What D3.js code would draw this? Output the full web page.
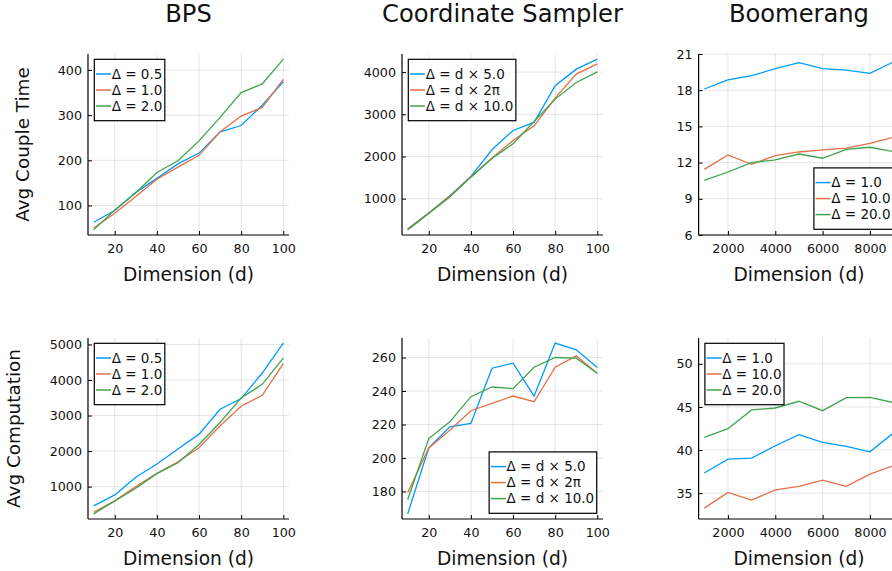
<!DOCTYPE html>
<html>
<head>
<meta charset="utf-8">
<script src="https://cdn.jsdelivr.net/npm/d3@7"></script>
<style>
  body { margin: 0; background: #fff; }
  svg { display: block; font-family: "DejaVu Sans", sans-serif; }
</style>
</head>
<body>
<div id="viz"></div>
<script>
// x values
const dims = [10, 20, 30, 40, 50, 60, 70, 80, 90, 100];
const boomDims = [1000, 2000, 3000, 4000, 5000, 6000, 7000, 8000, 9000];

// BPS
const bpsLabels = ["Δ = 0.5", "Δ = 1.0", "Δ = 2.0"];
const bpsCouple = [
    [63, 89, 129, 160, 192, 216, 263, 277, 322, 374],
    [50, 83, 120, 158, 185, 211, 263, 298, 317, 379],
    [46, 90, 128, 173, 199, 243, 295, 350, 369, 424]
];
const bpsComp = [
    [458, 766, 1262, 1635, 2056, 2476, 3177, 3477, 4196, 5037],
    [280, 598, 1000, 1374, 1700, 2093, 2710, 3262, 3570, 4458],
    [233, 600, 954, 1365, 1672, 2187, 2804, 3495, 3878, 4617]
];

// Coordinate Sampler
const csLabels = ["Δ = d × 5.0", "Δ = d × 2π", "Δ = d × 10.0"];
const csCouple = [
    [282, 661, 1071, 1528, 2160, 2617, 2807, 3676, 4071, 4308],
    [280, 660, 1060, 1520, 1964, 2380, 2728, 3384, 3953, 4197],
    [260, 650, 1040, 1510, 1950, 2302, 2830, 3360, 3754, 4007]
];
const csComp = [
    [166.6, 206, 218.6, 220.6, 253.6, 256.6, 237, 268.6, 264.6, 254],
    [179.2, 206, 216.6, 228.2, 232.6, 237, 233.6, 254.2, 261, 250.6],
    [175.2, 211.6, 221.6, 236.6, 242.4, 241.4, 254.2, 260, 259.6, 250.6]
];

// Boomerang
const boomLabels = ["Δ = 1.0", "Δ = 10.0", "Δ = 20.0"];
const boomCouple = [
    [18.1, 18.85, 19.2, 19.78, 20.28, 19.78, 19.67, 19.4, 20.35],
    [11.44, 12.63, 11.86, 12.58, 12.88, 13.05, 13.2, 13.6, 14.1],
    [10.53, 11.22, 12.0, 12.22, 12.71, 12.36, 13.1, 13.27, 12.9]
];
const boomComp = [
    [37.33, 38.95, 39.07, 40.5, 41.78, 40.9, 40.43, 39.8, 42.0],
    [33.26, 35.08, 34.19, 35.39, 35.78, 36.51, 35.78, 37.21, 38.2],
    [41.47, 42.48, 44.65, 44.88, 45.66, 44.57, 46.09, 46.12, 45.5]
];

const titles = ["BPS", "Coordinate Sampler", "Boomerang"];
const rowLabels = ["Avg Couple Time", "Avg Computation"];

const colors = ["#009AFA", "#E36F47", "#3EA44E"];
const W = 892, H = 571;

const cols = [[88, 289], [402, 603], [698.6, 899.3]];
const rows = [[54, 235], [338, 519]];

const panels = [
    {row: 0, col: 0, x: dims, ys: bpsCouple, labels: bpsLabels, xTicks: [20, 40, 60, 80, 100], yTicks: [100, 200, 300, 400], legend: "topleft"},
    {row: 0, col: 1, x: dims, ys: csCouple, labels: csLabels, xTicks: [20, 40, 60, 80, 100], yTicks: [1000, 2000, 3000, 4000], legend: "topleft"},
    {row: 0, col: 2, x: boomDims, ys: boomCouple, labels: boomLabels, xTicks: [2000, 4000, 6000, 8000], yTicks: [6, 9, 12, 15, 18, 21], yDomain: [6, 21], legend: "bottomright"},
    {row: 1, col: 0, x: dims, ys: bpsComp, labels: bpsLabels, xTicks: [20, 40, 60, 80, 100], yTicks: [1000, 2000, 3000, 4000, 5000], legend: "topleft"},
    {row: 1, col: 1, x: dims, ys: csComp, labels: csLabels, xTicks: [20, 40, 60, 80, 100], yTicks: [180, 200, 220, 240, 260], legend: "bottomright"},
    {row: 1, col: 2, x: boomDims, ys: boomComp, labels: boomLabels, xTicks: [2000, 4000, 6000, 8000], yTicks: [35, 40, 45, 50], yDomain: [32, 53], legend: "topleft"}
];

const svg = d3.select("#viz").append("svg")
    .attr("width", W)
    .attr("height", H);

// 3% padding like Plots.jl
function padded(lo, hi) {
    const p = (hi - lo) * 0.03;
    return [lo - p, hi + p];
}

function drawPanel(cfg) {
    const [left, right] = cols[cfg.col];
    const [top, bottom] = rows[cfg.row];

    const x = d3.scaleLinear()
        .domain(padded(d3.min(cfg.x), d3.max(cfg.x)))
        .range([left, right]);
    const y = d3.scaleLinear()
        .domain(cfg.yDomain || padded(d3.min(cfg.ys.flat()), d3.max(cfg.ys.flat())))
        .range([bottom, top]);

    const g = svg.append("g");

    // grid
    g.append("g").selectAll("line")
        .data(cfg.xTicks)
        .join("line")
        .attr("x1", d => x(d)).attr("x2", d => x(d))
        .attr("y1", top).attr("y2", bottom)
        .attr("stroke", "#000").attr("stroke-opacity", 0.1).attr("stroke-width", 1);
    g.append("g").selectAll("line")
        .data(cfg.yTicks)
        .join("line")
        .attr("x1", left).attr("x2", right)
        .attr("y1", d => y(d)).attr("y2", d => y(d))
        .attr("stroke", "#000").attr("stroke-opacity", 0.1).attr("stroke-width", 1);

    // axes (ticks inside)
    const xAxis = g.append("g")
        .attr("transform", `translate(0,${bottom})`)
        .call(d3.axisBottom(x).tickValues(cfg.xTicks).tickSize(-4).tickPadding(9).tickFormat(d3.format("d")));
    const yAxis = g.append("g")
        .attr("transform", `translate(${left},0)`)
        .call(d3.axisLeft(y).tickValues(cfg.yTicks).tickSize(-4).tickPadding(6).tickFormat(d3.format("d")));
    [xAxis, yAxis].forEach(a => {
        a.select(".domain").attr("stroke", "#000").attr("stroke-width", 1.2);
        a.selectAll(".tick line").attr("stroke", "#000").attr("stroke-width", 1);
        a.selectAll(".tick text").attr("fill", "#111").attr("font-size", 12.7).attr("font-family", "DejaVu Sans");
    });
    yAxis.select(".domain").attr("d", `M0,${bottom}V${top}`);
    xAxis.select(".domain").attr("d", `M${left},0H${right}`);

    // lines
    const line = d3.line()
        .x((d, i) => x(cfg.x[i]))
        .y(d => y(d));
    g.append("g").selectAll("path")
        .data(cfg.ys)
        .join("path")
        .attr("d", line)
        .attr("fill", "none")
        .attr("stroke", (d, i) => colors[i])
        .attr("stroke-width", 1.3);

    // x label
    g.append("text")
        .attr("x", (left + right) / 2)
        .attr("y", bottom + 45.5)
        .attr("text-anchor", "middle")
        .attr("font-size", 18.6)
        .attr("fill", "#111")
        .text("Dimension (d)");

    // title
    if (cfg.row === 0) {
        g.append("text")
            .attr("x", (left + right) / 2)
            .attr("y", 22)
            .attr("text-anchor", "middle")
            .attr("font-size", 24.2)
            .attr("fill", "#111")
            .text(titles[cfg.col]);
    }

    // y label
    if (cfg.col === 0) {
        const bx = cfg.row === 0 ? 28.5 : 20;
        g.append("text")
            .attr("transform", `translate(${bx},${(top + bottom) / 2}) rotate(-90)`)
            .attr("text-anchor", "middle")
            .attr("font-size", 18.4)
            .attr("fill", "#111")
            .text(rowLabels[cfg.row]);
    }

    // legend
    const leg = g.append("g");
    const box = leg.append("rect")
        .attr("fill", "#fff")
        .attr("stroke", "#000")
        .attr("stroke-width", 1.2);
    const rowH = 16, padV = 6.7;
    let maxW = 0;
    cfg.labels.forEach((lab, i) => {
        const cy = padV + rowH / 2 + i * rowH;
        leg.append("line")
            .attr("x1", 1.7).attr("x2", 16.7)
            .attr("y1", cy).attr("y2", cy)
            .attr("stroke", colors[i])
            .attr("stroke-width", 1.5);
        const t = leg.append("text")
            .attr("x", 17.4)
            .attr("y", cy)
            .attr("dy", "0.36em")
            .attr("font-size", 13.5)
            .attr("fill", "#111")
            .text(lab);
        maxW = Math.max(maxW, t.node().getComputedTextLength());
    });
    const bw = 17.4 + maxW + 2.5;
    const bh = rowH * cfg.labels.length + 2 * padV;
    box.attr("width", bw).attr("height", bh);
    let lx, ly;
    if (cfg.legend === "topleft") {
        lx = left + 6.3; ly = top + 5.3;
    } else {
        lx = right - 6.3 - bw; ly = bottom - 5.7 - bh;
    }
    leg.attr("transform", `translate(${lx},${ly})`);
}

panels.forEach(drawPanel);
</script>
</body>
</html>
